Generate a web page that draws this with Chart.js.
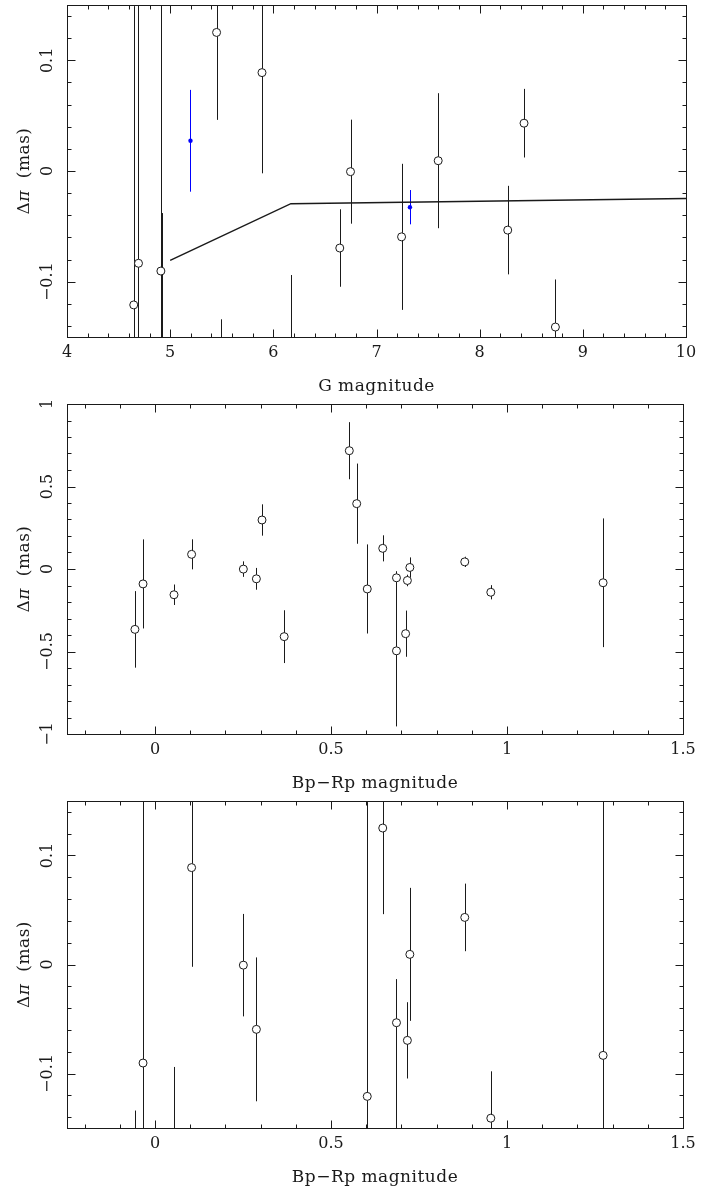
<!DOCTYPE html>
<html>
<head>
<meta charset="utf-8">
<script src="https://cdn.jsdelivr.net/npm/chart.js@4.4.0/dist/chart.umd.min.js"></script>
<style>
  html, body { margin: 0; padding: 0; background: #fff; }
  .panel { position: absolute; left: 0; width: 719px; }
</style>
</head>
<body>
<div class="panel" style="top:0;height:398px"><canvas id="gChart"></canvas></div>
<div class="panel" style="top:398px;height:398px"><canvas id="colorChart"></canvas></div>
<div class="panel" style="top:796px;height:400px"><canvas id="zoomChart"></canvas></div>
<script>
// Stars: colour, parallax difference, error, G mag (null = not seen in top panel)
const starBpRp = [-0.057, -0.034, 0.054, 0.104, 0.251, 0.288, 0.304, 0.367, 0.552, 0.573,
  0.603, 0.647, 0.686, 0.686, 0.712, 0.717, 0.724, 0.880, 0.954, 1.273];
const starDPi = [-0.366, -0.0904, -0.156, 0.0889, -0.0006, -0.0595, 0.297, -0.410, 0.717, 0.396,
  -0.121, 0.1252, -0.0534, -0.496, -0.392, -0.0696, 0.0093, 0.0432, -0.141, -0.0834];
const starErr = [0.232, 0.27, 0.062, 0.091, 0.047, 0.066, 0.095, 0.16, 0.173, 0.243,
  0.27, 0.079, 0.04, 0.458, 0.14, 0.035, 0.061, 0.031, 0.043, 0.39];
const starG = [5.49, 4.91, 6.17, 5.89, 6.748, 7.243, null, null, null, null,
  4.647, 5.45, 8.272, 4.925, null, 6.644, 7.598, 8.43, 8.734, 4.693];

// blue points (top panel only)
const blueG = [5.197, 7.324];
const blueDPi = [0.0273, -0.0327];
const blueErr = [0.046, 0.0155];

// model line
const modelG = [5.0, 6.17, 10.0];
const modelDPi = [-0.0808, -0.0295, -0.0248];

// tick labels
const gTicks = [4, 5, 6, 7, 8, 9, 10];
const colorTicks = [0, 0.5, 1, 1.5];
const dpiTicksSmall = [-0.1, 0, 0.1];
const dpiTicksLarge = [-1, -0.5, 0, 0.5, 1];

const FONT = "DejaVu Serif";
const INK = "#1a1a1a";

const fmt = (v) => (v < 0 ? "\u2212" : "") + Math.abs(v);

const errorBars = {
  id: "errorBars",
  beforeDatasetsDraw(chart) {
    const { ctx, chartArea: a, scales: { x, y } } = chart;
    ctx.save();
    ctx.beginPath();
    ctx.rect(a.left, a.top, a.right - a.left, a.bottom - a.top);
    ctx.clip();
    chart.data.datasets.forEach((ds) => {
      if (!ds.errors) return;
      ctx.strokeStyle = ds.errorColor || INK;
      ctx.lineWidth = 1;
      ds.data.forEach((p, i) => {
        const px = Math.round(x.getPixelForValue(p.x)) + 0.5;
        ctx.beginPath();
        ctx.moveTo(px, y.getPixelForValue(p.y - ds.errors[i]));
        ctx.lineTo(px, y.getPixelForValue(p.y + ds.errors[i]));
        ctx.stroke();
      });
    });
    ctx.restore();
  },
};

const frame = {
  id: "frame",
  afterDatasetsDraw(chart, args, o) {
    const { ctx, chartArea: a, scales: { x, y } } = chart;
    const L = Math.round(a.left) + 0.5, R = Math.round(a.right) + 0.5;
    const T = Math.round(a.top) + 0.5, B = Math.round(a.bottom) + 0.5;
    ctx.save();
    ctx.strokeStyle = INK;
    ctx.lineWidth = 1;
    ctx.strokeRect(L, T, R - L, B - T);

    // minor ticks on multiples of step, inside the frame
    const ticks = (scale, step, len, horiz) => {
      const first = Math.ceil(scale.min / step - 1e-6);
      const last = Math.floor(scale.max / step + 1e-6);
      for (let i = first; i <= last; i++) {
        const p = Math.round(scale.getPixelForValue(i * step)) + 0.5;
        ctx.beginPath();
        if (horiz) {
          ctx.moveTo(p, B); ctx.lineTo(p, B - len);
          ctx.moveTo(p, T); ctx.lineTo(p, T + len);
        } else {
          ctx.moveTo(L, p); ctx.lineTo(L + len, p);
          ctx.moveTo(R, p); ctx.lineTo(R - len, p);
        }
        ctx.stroke();
      }
    };
    ticks(x, o.xMinor, 4, true);
    ticks(y, o.yMinor, 4, false);
    // major ticks aligned on the labels
    o.xTicks.forEach((v) => {
      const p = Math.round(x.getPixelForValue(v)) + 0.5;
      ctx.beginPath();
      ctx.moveTo(p, B); ctx.lineTo(p, B - 8);
      ctx.moveTo(p, T); ctx.lineTo(p, T + 8);
      ctx.stroke();
    });
    o.yTicks.forEach((v) => {
      const p = Math.round(y.getPixelForValue(v)) + 0.5;
      ctx.beginPath();
      ctx.moveTo(L, p); ctx.lineTo(L + 8, p);
      ctx.moveTo(R, p); ctx.lineTo(R - 8, p);
      ctx.stroke();
    });

    ctx.fillStyle = INK;
    ctx.font = "16px '" + FONT + "'";
    ctx.textAlign = "center";
    ctx.textBaseline = "middle";
    o.xTicks.forEach((v) => {
      ctx.fillText(fmt(v), x.getPixelForValue(v), a.bottom + 16);
    });

    o.yTicks.forEach((v) => {
      ctx.save();
      ctx.translate(a.left - 19, y.getPixelForValue(v));
      ctx.rotate(-Math.PI / 2);
      ctx.fillText(fmt(v), 0, 0);
      ctx.restore();
    });

    ctx.font = "17px '" + FONT + "'";
    ctx.letterSpacing = "0.5px";
    ctx.fillText(o.xTitle, (a.left + a.right) / 2, a.bottom + 50);

    // y title: Δπ (mas)
    ctx.save();
    ctx.translate(a.left - 42, (a.top + a.bottom) / 2);
    ctx.rotate(-Math.PI / 2);
    const parts = [["\u0394", "17px '" + FONT + "'"], ["\u03c0", "italic 17px '" + FONT + "'"], ["  (mas)", "17px '" + FONT + "'"]];
    let w = 0;
    parts.forEach(([t, f]) => { ctx.font = f; w += ctx.measureText(t).width; });
    let cx = -w / 2;
    ctx.textAlign = "left";
    parts.forEach(([t, f]) => {
      ctx.font = f;
      ctx.fillText(t, cx, 0);
      cx += ctx.measureText(t).width;
    });
    ctx.restore();
    ctx.restore();
  },
};

const circleSet = (xs, ys, errs) => {
  const data = [], errors = [];
  xs.forEach((v, i) => {
    if (v === null) return;
    data.push({ x: v, y: ys[i] });
    errors.push(errs[i]);
  });
  return {
    type: "scatter",
    data: data,
    errors: errors,
    pointStyle: "circle",
    pointRadius: 4,
    pointBorderWidth: 1,
    pointBorderColor: INK,
    pointBackgroundColor: "#fff",
    order: 1,
  };
};

const createChart = (id, datasets, range, frameOpts, padding) => {
  const canvas = document.getElementById(id);
  return new Chart(canvas.getContext("2d"), {
    type: "scatter",
    data: { datasets: datasets },
    options: {
      responsive: true,
      maintainAspectRatio: false,
      animation: false,
      layout: { padding: padding },
      plugins: {
        legend: { display: false },
        tooltip: { enabled: false },
        frame: frameOpts,
      },
      scales: {
        x: { type: "linear", display: false, min: range[0], max: range[1] },
        y: { type: "linear", display: false, min: range[2], max: range[3] },
      },
    },
    plugins: [errorBars, frame],
  });
};

// Top: G magnitude
const gStars = circleSet(starG, starDPi, starErr);
createChart("gChart", [
  {
    type: "line",
    data: modelG.map((v, i) => ({ x: v, y: modelDPi[i] })),
    borderColor: INK,
    borderWidth: 1.5,
    pointRadius: 0,
    order: 0,
  },
  gStars,
  {
    type: "scatter",
    data: blueG.map((v, i) => ({ x: v, y: blueDPi[i] })),
    errors: blueErr,
    errorColor: "#0000ff",
    pointRadius: 2.2,
    pointBorderWidth: 0,
    pointBackgroundColor: "#0000ff",
  },
], [4, 10, -0.15, 0.15],
  { xTicks: gTicks, yTicks: dpiTicksSmall, xMinor: 0.2, yMinor: 0.02, xTitle: "G magnitude" },
  { left: 67, top: 4, right: 33, bottom: 61 });

// Middle: Bp-Rp, wide range
createChart("colorChart", [circleSet(starBpRp, starDPi, starErr)], [-0.25, 1.5, -1, 1],
  { xTicks: colorTicks, yTicks: dpiTicksLarge, xMinor: 0.1, yMinor: 0.1, xTitle: "Bp\u2212Rp magnitude" },
  { left: 67, top: 6, right: 36, bottom: 62 });

// Bottom: Bp-Rp, narrow range
createChart("zoomChart", [circleSet(starBpRp, starDPi, starErr)], [-0.25, 1.5, -0.15, 0.15],
  { xTicks: colorTicks, yTicks: dpiTicksSmall, xMinor: 0.1, yMinor: 0.02, xTitle: "Bp\u2212Rp magnitude" },
  { left: 67, top: 5, right: 36, bottom: 68 });
</script>
</body>
</html>
